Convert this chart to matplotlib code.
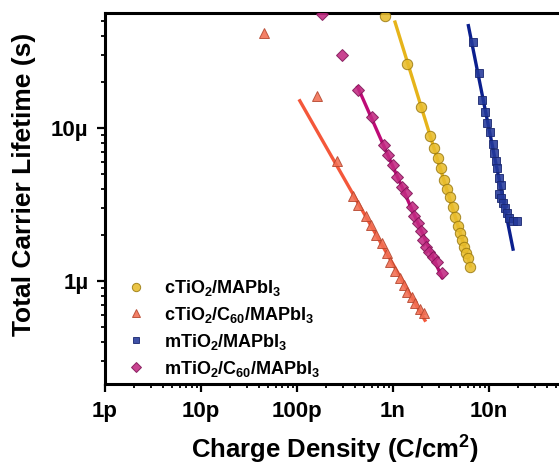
import numpy as np
import matplotlib.pyplot as plt
from matplotlib.ticker import FixedLocator, LogLocator, NullFormatter

plt.rcParams['font.family'] = ['Liberation Sans', 'DejaVu Sans']
plt.rcParams['font.weight'] = 'bold'
plt.rcParams['mathtext.fontset'] = 'custom'
plt.rcParams['mathtext.rm'] = 'Liberation Sans:bold'
plt.rcParams['mathtext.it'] = 'Liberation Sans:bold'
plt.rcParams['mathtext.bf'] = 'Liberation Sans:bold'

# cTiO2/MAPbI3
ct_x = [8.26e-10, 1.40e-9, 1.96e-9, 2.43e-9, 2.67e-9, 2.94e-9, 3.16e-9, 3.40e-9, 3.65e-9, 3.93e-9,
        4.22e-9, 4.42e-9, 4.75e-9, 4.99e-9, 5.23e-9, 5.49e-9, 5.76e-9, 6.04e-9, 6.34e-9]
ct_y = [5.40e-5, 2.62e-5, 1.37e-5, 8.87e-6, 7.40e-6, 6.37e-6, 5.48e-6, 4.57e-6, 3.99e-6, 3.54e-6,
        3.05e-6, 2.62e-6, 2.29e-6, 2.06e-6, 1.85e-6, 1.67e-6, 1.52e-6, 1.41e-6, 1.24e-6]
ct_fit = [1.05e-9, 6.4e-9]

# cTiO2/C60/MAPbI3
ctc_x = [4.53e-11, 1.62e-10, 2.61e-10, 3.83e-10, 4.32e-10, 5.23e-10, 5.90e-10, 6.65e-10, 7.67e-10, 8.66e-10,
         9.31e-10, 1.05e-9, 1.18e-9, 1.30e-9, 1.40e-9, 1.58e-9, 1.69e-9, 1.91e-9, 2.10e-9]
ctc_y = [4.18e-5, 1.62e-5, 6.09e-6, 3.60e-6, 3.14e-6, 2.66e-6, 2.32e-6, 2.00e-6, 1.77e-6, 1.52e-6,
         1.33e-6, 1.16e-6, 1.05e-6, 9.42e-7, 8.48e-7, 7.86e-7, 7.18e-7, 6.56e-7, 6.18e-7]
ctc_fit = [1.07e-10, 2.15e-9]

# mTiO2/MAPbI3
mt_x = [6.81e-9, 7.87e-9, 8.45e-9, 9.08e-9, 9.53e-9, 1.02e-8, 1.10e-8, 1.13e-8, 1.18e-8, 1.21e-8,
        1.27e-8, 1.33e-8, 1.27e-8, 1.33e-8, 1.40e-8, 1.47e-8, 1.54e-8, 1.61e-8, 1.78e-8, 1.96e-8]
mt_y = [3.65e-5, 2.29e-5, 1.52e-5, 1.27e-5, 1.08e-5, 9.42e-6, 7.86e-6, 6.86e-6, 6.09e-6, 5.48e-6,
        4.71e-6, 4.24e-6, 3.70e-6, 3.49e-6, 3.24e-6, 3.00e-6, 2.78e-6, 2.58e-6, 2.47e-6, 2.47e-6]
mt_fit = [6.1e-9, 1.78e-8]

# mTiO2/C60/MAPbI3
mtc_x = [1.82e-10, 2.94e-10, 4.32e-10, 6.04e-10, 8.06e-10, 8.87e-10, 1.00e-9, 1.10e-9, 1.24e-9, 1.37e-9,
         1.58e-9, 1.66e-9, 1.82e-9, 1.96e-9, 2.05e-9, 2.21e-9, 2.37e-9, 2.61e-9, 2.87e-9, 3.24e-9]
mtc_y = [5.56e-5, 3.00e-5, 1.77e-5, 1.18e-5, 7.74e-6, 6.67e-6, 5.73e-6, 4.78e-6, 4.12e-6, 3.76e-6,
         3.05e-6, 2.66e-6, 2.39e-6, 2.12e-6, 1.85e-6, 1.67e-6, 1.55e-6, 1.44e-6, 1.33e-6, 1.13e-6]
mtc_fit = [4.3e-10, 3.24e-9]

x_ticks = [1e-12, 1e-11, 1e-10, 1e-9, 1e-8]
x_labels = ['1p', '10p', '100p', '1n', '10n']
y_ticks = [1e-6, 1e-5]
y_labels = ['1µ', '10µ']


def fit_line(x, y, rng, skip_first=0, skip_last=0):
    x = np.array(x[skip_first:len(x) - skip_last])
    y = np.array(y[skip_first:len(y) - skip_last])
    p = np.polyfit(np.log10(x), np.log10(y), 1)
    xs = np.logspace(np.log10(rng[0]), np.log10(rng[1]), 50)
    return xs, 10 ** np.polyval(p, np.log10(xs))


fig = plt.figure(figsize=(5.59, 4.62), dpi=100)
ax = fig.add_axes([0.1878, 0.1688, 0.8587, 0.8030])
ax.set_xscale('log')
ax.set_yscale('log')

series = [
    (ct_x, ct_y, ct_fit, 1, 0, 'o', '#E8BC2C', '#9A7A10', '#E6B41A', 7.5, r'cTiO$_2$/MAPbI$_3$'),
    (ctc_x, ctc_y, ctc_fit, 2, 0, '^', '#F26E52', '#B5472F', '#F4573A', 7.5, r'cTiO$_2$/C$_{60}$/MAPbI$_3$'),
    (mt_x, mt_y, mt_fit, 0, 2, 's', '#24399A', '#1A2870', '#0B1F8E', 6.0, r'mTiO$_2$/MAPbI$_3$'),
    (mtc_x, mtc_y, mtc_fit, 2, 0, 'D', '#C22A82', '#7E1355', '#BE0A76', 6.5, r'mTiO$_2$/C$_{60}$/MAPbI$_3$'),
]

handles = []
for x, y, rng, s0, s1, m, fc, ec, lc, ms, lab in series:
    xs, ys = fit_line(x, y, rng, s0, s1)
    ax.plot(xs, ys, color=lc, lw=2.4, zorder=2)
    h, = ax.plot(x, y, ls='none', marker=m, ms=ms, mfc=fc, mec=ec, mew=0.7,
                 alpha=0.88, label=lab, zorder=3)
    handles.append(h)

ax.set_xlim(1e-12, 1e-7)
ax.set_ylim(2.12e-7, 5.65e-5)

ax.xaxis.set_major_locator(FixedLocator(x_ticks))
ax.set_xticklabels(x_labels)
ax.yaxis.set_major_locator(FixedLocator(y_ticks))
ax.set_yticklabels(y_labels)
ax.xaxis.set_minor_locator(LogLocator(base=10, subs=np.arange(2, 10)))
ax.yaxis.set_minor_locator(LogLocator(base=10, subs=np.arange(2, 10)))
ax.xaxis.set_minor_formatter(NullFormatter())
ax.yaxis.set_minor_formatter(NullFormatter())

ax.tick_params(which='major', direction='out', length=6, width=1.6, labelsize=16, pad=6)
ax.tick_params(which='minor', direction='out', length=3, width=1.3)
for sp in ax.spines.values():
    sp.set_linewidth(2.2)

ax.set_xlabel('Charge Density (C/cm$^2$)', fontsize=18.5, fontweight='bold')
ax.set_ylabel('Total Carrier Lifetime (s)', fontsize=19, fontweight='bold')
ax.xaxis.set_label_coords(0.479, -0.133)
ax.yaxis.set_label_coords(-0.144, 0.538)

leg = ax.legend(handles=handles, loc='upper left', bbox_to_anchor=(0.0, 0.32),
                frameon=False, fontsize=13, handletextpad=0.55, labelspacing=0.38,
                markerscale=0.8, borderaxespad=0.3)

fig.savefig('out.png', dpi=100)
